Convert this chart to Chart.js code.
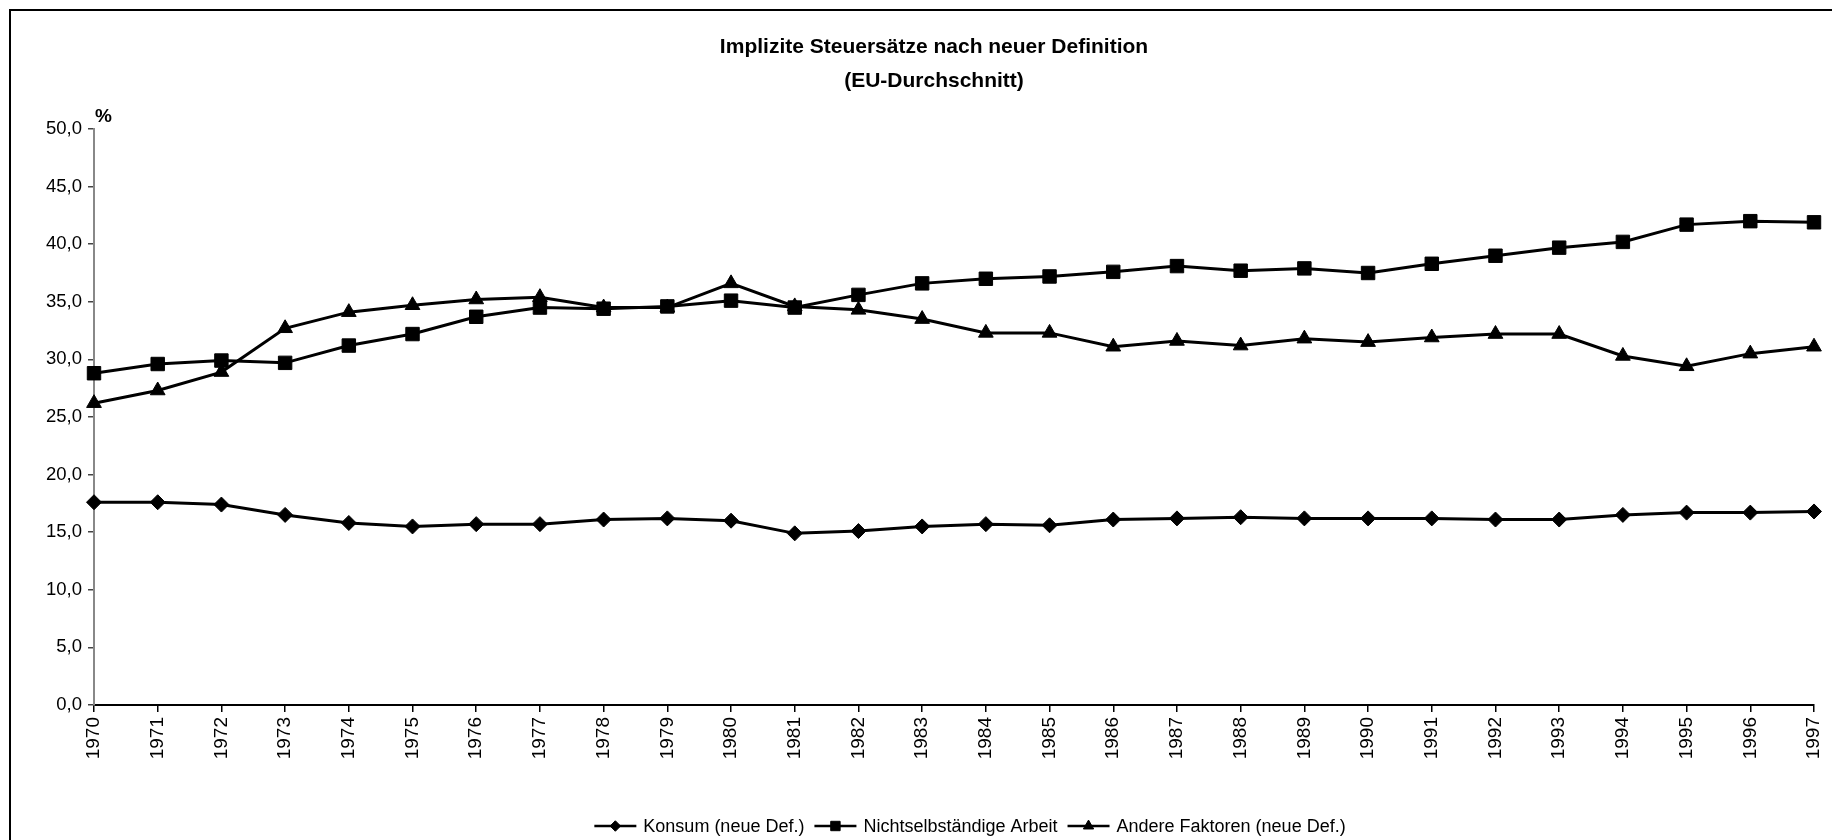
<!DOCTYPE html>
<html>
<head>
<meta charset="utf-8">
<title>Implizite Steuersätze</title>
<script src="https://cdn.jsdelivr.net/npm/chart.js@4.4.0/dist/chart.umd.min.js"></script>
<style>
  html, body { margin: 0; padding: 0; background: #fff; }
  #wrap { width: 1832px; height: 840px; }
</style>
</head>
<body>
<div id="wrap"><canvas id="chart" width="1832" height="840"></canvas></div>
<script>
const years = ['1970', '1971', '1972', '1973', '1974', '1975', '1976', '1977', '1978', '1979',
  '1980', '1981', '1982', '1983', '1984', '1985', '1986', '1987', '1988', '1989',
  '1990', '1991', '1992', '1993', '1994', '1995', '1996', '1997'];

const konsum = [17.6, 17.6, 17.4, 16.5, 15.8, 15.5, 15.7, 15.7, 16.1, 16.2,
  16.0, 14.9, 15.1, 15.5, 15.7, 15.6, 16.1, 16.2, 16.3, 16.2,
  16.2, 16.2, 16.1, 16.1, 16.5, 16.7, 16.7, 16.8];

const arbeit = [28.8, 29.6, 29.9, 29.7, 31.2, 32.2, 33.7, 34.5, 34.4, 34.6,
  35.1, 34.5, 35.6, 36.6, 37.0, 37.2, 37.6, 38.1, 37.7, 37.9,
  37.5, 38.3, 39.0, 39.7, 40.2, 41.7, 42.0, 41.9];

const andere = [26.2, 27.3, 28.9, 32.7, 34.1, 34.7, 35.2, 35.4, 34.5, 34.5,
  36.6, 34.6, 34.3, 33.5, 32.3, 32.3, 31.1, 31.6, 31.2, 31.8,
  31.5, 31.9, 32.2, 32.2, 30.3, 29.4, 30.5, 31.1];

const seriesNames = ['Konsum (neue Def.)', 'Nichtselbständige Arbeit', 'Andere Faktoren (neue Def.)'];
const yTickLabels = ['0,0', '5,0', '10,0', '15,0', '20,0', '25,0', '30,0', '35,0', '40,0', '45,0', '50,0'];
const titleLines = ['Implizite Steuersätze nach neuer Definition', '(EU-Durchschnitt)'];
const unitLabel = '%';

const FONT = '"Liberation Sans", Arial, sans-serif';

// frame, title, "%" label and legend (line + marker, like the original)
const extras = {
  id: 'extras',
  beforeDraw(chart) {
    const ctx = chart.ctx;
    ctx.save();
    ctx.fillStyle = '#fff';
    ctx.fillRect(0, 0, chart.width, chart.height);
    ctx.strokeStyle = '#000';
    ctx.lineWidth = 2;
    ctx.strokeRect(10, 10, chart.width + 40, chart.height + 40);
    ctx.restore();
  },
  afterDraw(chart) {
    const ctx = chart.ctx;
    const area = chart.chartArea;
    ctx.save();
    ctx.fillStyle = '#000';

    // title, centred on the (wider) chart frame
    ctx.font = 'bold 21px ' + FONT;
    ctx.textAlign = 'center';
    ctx.textBaseline = 'middle';
    titleLines.forEach((t, i) => ctx.fillText(t, 934, 47 + i * 34));

    ctx.font = 'bold 19px ' + FONT;
    ctx.textAlign = 'left';
    ctx.textBaseline = 'alphabetic';
    ctx.fillText(unitLabel, area.left + 1, area.top - 7);

    // legend
    ctx.font = '18px ' + FONT;
    const lineLen = 42, gap = 7, itemGap = 10, cy = 826;
    const ds = chart.data.datasets;
    const widths = ds.map(d => ctx.measureText(d.label).width);
    let total = 0;
    widths.forEach(w => { total += lineLen + gap + w; });
    total += itemGap * (ds.length - 1);
    let x = 970 - total / 2;
    ds.forEach((d, i) => {
      ctx.strokeStyle = '#000';
      ctx.lineWidth = 2.5;
      ctx.beginPath();
      ctx.moveTo(x, cy);
      ctx.lineTo(x + lineLen, cy);
      ctx.stroke();
      ctx.fillStyle = '#000';
      ctx.lineWidth = 1;
      Chart.helpers.drawPoint(ctx, {
        pointStyle: d.pointStyle, radius: d.pointRadius * 0.7, rotation: 0, borderWidth: 1
      }, x + lineLen / 2, cy);
      ctx.fillStyle = '#000';
      ctx.textBaseline = 'middle';
      ctx.fillText(d.label, x + lineLen + gap, cy + 1);
      x += lineLen + gap + widths[i] + itemGap;
    });
    ctx.restore();
  }
};

function lineSet(label, data, style, radius) {
  return {
    label: label,
    data: data,
    borderColor: '#000',
    backgroundColor: '#000',
    borderWidth: 3,
    pointStyle: style,
    pointRadius: radius,
    pointBackgroundColor: '#000',
    pointBorderColor: '#000',
    pointBorderWidth: 1,
    tension: 0,
    fill: false
  };
}

const ctx = document.getElementById('chart').getContext('2d');
const myChart = new Chart(ctx, {
  type: 'line',
  data: {
    labels: years,
    datasets: [
      lineSet(seriesNames[0], konsum, 'rectRot', 7.5),
      lineSet(seriesNames[1], arbeit, 'rect', 9.5),
      lineSet(seriesNames[2], andere, 'triangle', 8.5)
    ]
  },
  options: {
    responsive: false,
    animation: false,
    layout: { padding: { left: 10, right: 18, top: 129, bottom: 0 } },
    plugins: {
      legend: { display: false },
      tooltip: { enabled: false },
      title: { display: false }
    },
    scales: {
      x: {
        offset: false,
        grid: { display: true, drawOnChartArea: false, drawTicks: true, tickLength: 7, color: '#000', lineWidth: 1.5 },
        border: { display: true, color: '#000', width: 2 },
        ticks: {
          autoSkip: false, minRotation: 90, maxRotation: 90,
          color: '#000', padding: 5,
          font: { family: FONT, size: 19 }
        },
        afterFit(scale) {
          scale.height = 135;
          scale.paddingLeft = 0;
          scale.paddingRight = 0;
        }
      },
      y: {
        min: 0,
        max: 50,
        grid: { display: true, drawOnChartArea: false, drawTicks: true, tickLength: 6, color: '#444', lineWidth: 1.5 },
        border: { display: true, color: '#888', width: 2 },
        ticks: {
          stepSize: 5, color: '#000', padding: 6,
          font: { family: FONT, size: 18.5 },
          callback: (v) => yTickLabels[Math.round(v / 5)]
        },
        afterFit(scale) { scale.width = 84; }
      }
    }
  },
  plugins: [extras]
});
</script>
</body>
</html>
